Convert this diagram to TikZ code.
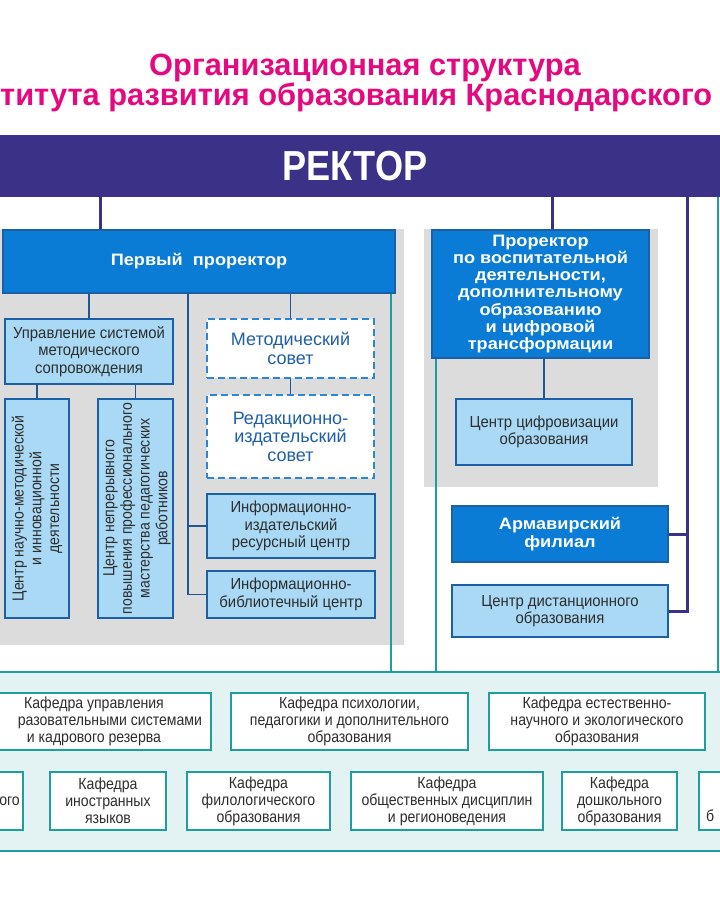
\documentclass[tikz,border=0pt]{standalone}
\usepackage{fontspec}
\setmainfont{Liberation Sans}
\newfontfamily\narrowfont[FakeStretch=0.93]{Liberation Sans}
\newfontfamily\slimfont[FakeStretch=0.88]{Liberation Sans}
\newfontfamily\widefont[FakeStretch=1.1]{Liberation Sans}
\newfontfamily\rectorfont[FakeStretch=0.86]{Liberation Sans}
\usetikzlibrary{positioning,calc}

\definecolor{rectorcol}{HTML}{3B3186}
\definecolor{titlecol}{HTML}{E5097F}
\definecolor{boxblue}{HTML}{0A7CD6}
\definecolor{borderblue}{HTML}{1B5FA5}
\definecolor{lightblue}{HTML}{A9D9F5}
\definecolor{conncol}{HTML}{1E5792}
\definecolor{panelgray}{HTML}{DCDCDC}
\definecolor{tealcol}{HTML}{1E9E9E}
\definecolor{kafback}{HTML}{E3F3F4}
\definecolor{dashblue}{HTML}{2B86D3}
\definecolor{councilblue}{HTML}{1F5FA7}
\definecolor{darktext}{HTML}{2E2E2E}

\tikzset{
  purp/.style={draw=rectorcol, line width=3pt},
  conn/.style={draw=conncol, line width=1.6pt},
  tealline/.style={draw=tealcol, line width=2.5pt},
  titletext/.style={text=titlecol, inner sep=0pt, font=\bfseries\fontsize{30.8}{34}\selectfont},
  rectorbar/.style={fill=rectorcol, text=white, minimum width=800, minimum height=62,
    font=\rectorfont\bfseries\fontsize{42}{44}\selectfont},
  bluebox/.style={draw=borderblue, fill=boxblue, line width=1.6pt, text=white, align=center,
    inner sep=0pt, font=\widefont\bfseries\fontsize{16.5}{17.3}\selectfont},
  lightbox/.style={draw=borderblue, fill=lightblue, line width=1.6pt, text=darktext, align=center,
    inner sep=0pt, font=\narrowfont\fontsize{16}{17.5}\selectfont},
  rottext/.style={rotate=90, text=darktext, align=center, inner sep=0pt,
    font=\slimfont\fontsize{16}{17.7}\selectfont},
  dashbox/.style={draw=dashblue, dash pattern=on 7pt off 4pt, fill=white, line width=1.8pt,
    text=councilblue, align=center, inner sep=0pt, font=\fontsize{18}{18.5}\selectfont},
  kafframe/.style={draw=tealcol, fill=kafback, line width=2.5pt, minimum width=780, minimum height=179},
  kafbox/.style={draw=tealcol, fill=white, line width=1.8pt, text=darktext, align=center,
    inner sep=0pt, minimum height=58, font=\slimfont\fontsize{16}{17}\selectfont},
  kaftext/.style={text=darktext, inner sep=0pt, font=\slimfont\fontsize{16}{17}\selectfont},
}

\begin{document}
\begin{tikzpicture}[x=1pt, y=-1pt]
\useasboundingbox (0,0) rectangle (720,900);
\clip (0,0) rectangle (720,900);
\fill[white] (0,0) rectangle (720,900);

% title
\node[titletext] (title1) at (365,68) {Организационная структура};
\node[titletext, anchor=west] (title2) at (0,97) {титута развития образования Краснодарского};

% grey panels
\fill[panelgray] (-10,229) rectangle (404,645);
\fill[panelgray] (424,229) rectangle (658,487);

% rector
\node[rectorbar] (rector) at (355,166) {РЕКТОР};

% first vice-rector and its units
\node[bluebox, minimum width=392, minimum height=63] (fp) at (199,261.5) {Первый~~проректор};
\node[lightbox, minimum width=168, minimum height=65] (upr) at (89,351.5)
  {Управление системой\\методического\\сопровождения};
\node[lightbox, minimum width=64, minimum height=219] (cnm) at (37,508.5) {};
\node[rottext] (cnmtext) at (cnm.center)
  {Центр научно-методической\\и инновационной\\деятельности};
\node[lightbox, minimum width=75, minimum height=219] (cnp) at (135.5,508.5) {};
\node[rottext] (cnptext) at ([xshift=1.5pt]cnp.center)
  {Центр непрерывного\\повышения профессионального\\мастерства педагогических\\работников};
\node[dashbox, minimum width=167, minimum height=59] (ms) at (290.5,348.5) {Методический\\совет};
\node[dashbox, minimum width=167, minimum height=83] (rs) at (290.5,436.5)
  {Редакционно-\\издательский\\совет};
\node[lightbox, minimum width=168, minimum height=64] (iir) at (291,526)
  {Информационно-\\издательский\\ресурсный центр};
\node[lightbox, minimum width=168, minimum height=47] (ibc) at (291,594.5)
  {Информационно-\\библиотечный центр};

% second vice-rector
\node[bluebox, minimum width=217, minimum height=128] (pr2) at (540.5,294)
  {Проректор\\по воспитательной\\деятельности,\\дополнительному\\образованию\\и цифровой\\трансформации};
\node[lightbox, minimum width=176, minimum height=66] (czo) at (544,432)
  {Центр цифровизации\\образования};
\node[bluebox, minimum width=216, minimum height=56] (arm) at (560,534) {Армавирский\\филиал};
\node[lightbox, minimum width=216, minimum height=52] (dist) at (560,611)
  {Центр дистанционного\\образования};

% departments
\node[kafframe] (kaf) at (360,761.5) {};
\node[kafbox, minimum width=234, minimum height=57] (k11) at (94,721.5)
  {Кафедра управления\\\makebox[216pt][r]{разовательными системами}\\и кадрового резерва};
\node[kafbox, minimum width=237, minimum height=57] (k12) at (349.5,721.5)
  {Кафедра психологии,\\педагогики и дополнительного\\образования};
\node[kafbox, minimum width=216, minimum height=57] (k13) at (597,721.5)
  {Кафедра естественно-\\научного и экологического\\образования};
\node[kafbox, minimum width=123] (k20) at (-38.5,801) {};
\node[kaftext, anchor=east] (k20text) at (20,801) {ого};
\node[kafbox, minimum width=116] (k21) at (108,801) {Кафедра\\иностранных\\языков};
\node[kafbox, minimum width=143] (k22) at (258.5,801) {Кафедра\\филологического\\образования};
\node[kafbox, minimum width=192] (k23) at (447,801) {Кафедра\\общественных дисциплин\\и регионоведения};
\node[kafbox, minimum width=115] (k24) at (619.5,801) {Кафедра\\дошкольного\\образования};
\node[kafbox, minimum width=121] (k25) at (759.5,801) {};
\node[kaftext, anchor=west] (k25text) at (706,816) {б};

% rector links
\coordinate (fpin) at (100,197);
\coordinate (rbus) at (687,197);
\coordinate (rteal) at (718,197);
\draw[purp] (fpin) -- (fpin |- fp.north);
\draw[purp] (rector.south -| 552,0) -- (pr2.north -| 552,0);
\draw[purp] (rbus) |- (dist.east);
\draw[purp] (arm.east) -- (arm.east -| rbus);

% links to the departments
\draw[tealline] ([xshift=-5pt]fp.south east) -- ([xshift=-5pt]fp.south east |- kaf.north);
\draw[tealline] ([xshift=5pt]pr2.south west) -- ([xshift=5pt]pr2.south west |- kaf.north);
\draw[tealline] (rteal) -- (rteal |- kaf.north);

% internal links
\coordinate (bus) at (188,293);
\draw[conn] (fp.south -| upr.north) -- (upr.north);
\draw[conn] (fp.south -| ms.north) -- (ms.north);
\draw[conn] (ms.south) -- (rs.north);
\draw[conn] (bus) |- (ibc.west);
\draw[conn] (bus |- iir.west) -- (iir.west);
\draw[conn] (upr.south -| cnm.north) -- (cnm.north);
\draw[conn] (upr.south -| cnp.north) -- (cnp.north);
\draw[conn] (pr2.south -| czo.north) -- (czo.north);
\end{tikzpicture}
\end{document}
